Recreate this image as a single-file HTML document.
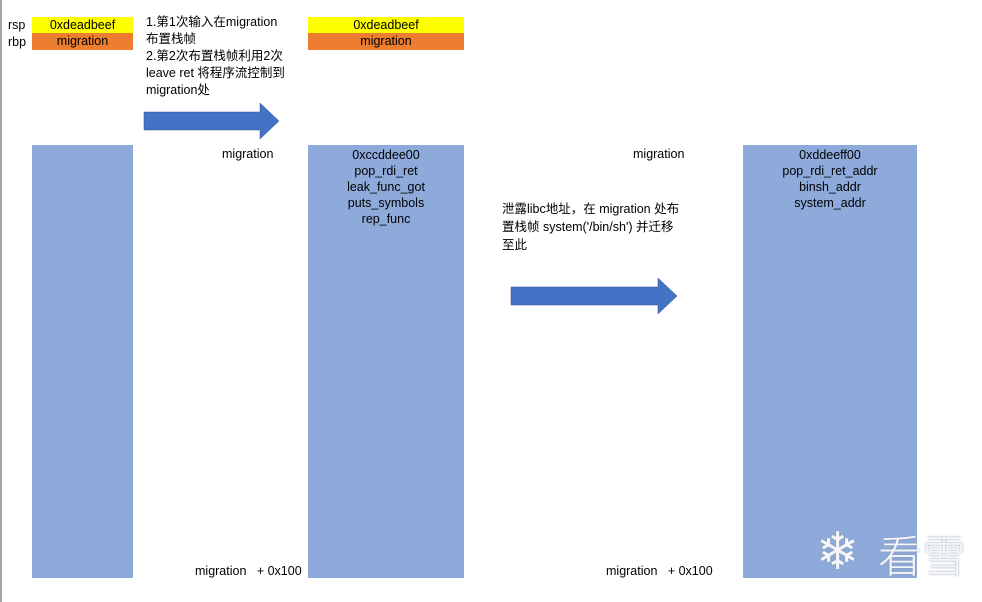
<!DOCTYPE html>
<html><head><meta charset="utf-8"><style>
body{margin:0;width:982px;height:602px;background:#fff;position:relative;overflow:hidden;font-family:"Liberation Sans","Noto Sans CJK SC",sans-serif;font-size:12.5px;color:#000}
.a{position:absolute}
.c{text-align:center;line-height:16px}
.blue{background:#8eaadb}
</style></head><body>
<div class="a" style="left:0;top:0;width:2px;height:602px;background:#a6a6a6"></div>
<div class="a" style="left:8px;top:18px">rsp</div>
<div class="a" style="left:8px;top:35px">rbp</div>
<div class="a c" style="left:32px;top:17px;width:101px;height:16px;background:#ffff00">0xdeadbeef</div>
<div class="a c" style="left:32px;top:33px;width:101px;height:17px;background:#ed7d31">migration</div>
<div class="a blue" style="left:32px;top:145px;width:101px;height:433px"></div>
<div class="a" style="left:146px;top:14px;line-height:17px;width:145px">1.第1次输入在migration<br>布置栈帧<br>2.第2次布置栈帧利用2次<br>leave ret 将程序流控制到<br>migration处</div>
<svg class="a" style="left:0;top:0" width="982" height="602">
<polygon points="144,112 260,112 260,103 279,121 260,139 260,130 144,130" fill="#4472c4" stroke="#2f5597" stroke-width="0.5"/>
<polygon points="511,287 658,287 658,278 677,296 658,314 658,305 511,305" fill="#4472c4" stroke="#2f5597" stroke-width="0.5"/>
</svg>
<div class="a c" style="left:308px;top:17px;width:156px;height:16px;background:#ffff00">0xdeadbeef</div>
<div class="a c" style="left:308px;top:33px;width:156px;height:17px;background:#ed7d31">migration</div>
<div class="a" style="left:222px;top:147px">migration</div>
<div class="a blue c" style="left:308px;top:145px;width:156px;height:433px;padding-top:2px;box-sizing:border-box">0xccddee00<br>pop_rdi_ret<br>leak_func_got<br>puts_symbols<br>rep_func</div>
<div class="a" style="left:195px;top:564px">migration&nbsp;&nbsp; + 0x100</div>
<div class="a" style="left:633px;top:147px">migration</div>
<div class="a" style="left:502px;top:200px;line-height:18px;width:195px">泄露libc地址，在 migration 处布<br>置栈帧 system('/bin/sh') 并迁移<br>至此</div>
<div class="a blue c" style="left:743px;top:145px;width:174px;height:433px;padding-top:2px;box-sizing:border-box">0xddeeff00<br>pop_rdi_ret_addr<br>binsh_addr<br>system_addr</div>
<div class="a" style="left:606px;top:564px">migration&nbsp;&nbsp; + 0x100</div>
<div class="a" style="left:816px;top:520px;font-size:52px;line-height:64px;color:#f4f6fa;text-shadow:0 0 2px #8a96aa;font-family:'DejaVu Sans',sans-serif">❄</div>
<div class="a" style="left:878px;top:524px;font-size:44px;line-height:58px;color:#f4f6fa;text-shadow:0 0 2px #8a96aa;font-family:'Noto Sans CJK SC',sans-serif;font-weight:300">看雪</div>
</body></html>
